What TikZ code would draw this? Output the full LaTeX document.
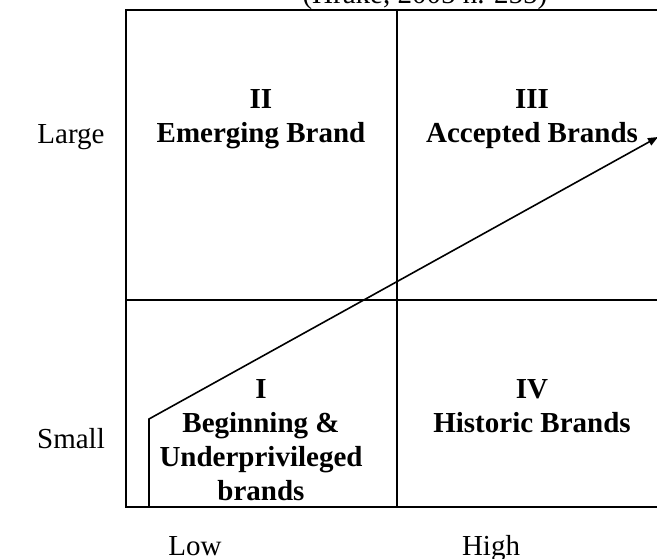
\documentclass[tikz,border=0pt]{standalone}
\usepackage{fontspec}
\setmainfont{Liberation Serif}
\usetikzlibrary{arrows.meta}
\begin{document}
\begin{tikzpicture}[x=1pt,y=-1pt,
  cell/.style={align=center,font=\bfseries\fontsize{29}{34}\selectfont,inner sep=0pt,anchor=north},
  side/.style={font=\fontsize{29}{34}\selectfont,inner sep=0pt,anchor=base}]
\useasboundingbox (0,0) rectangle (657,559);

         \coordinate (NW) at (126,10);
         \coordinate (SE) at (668,507);
         \coordinate (N)  at (397,10);
         \coordinate (S)  at (397,507);
         \coordinate (W)  at (126,300);
         \coordinate (E)  at (668,300);

         \draw [line width=2.2pt] (NW) rectangle (SE);
         \draw [line width=2.2pt] (N) -- (S);
         \draw [line width=2.2pt] (W) -- (E);

         \node [cell] (two)   at (261,89)  {II\\Emerging Brand};
         \node [cell] (three) at (532,89)  {III\\Accepted Brands};
         \node [cell] (one)   at (261,379) {I\\Beginning \&\\Underprivileged\\brands};
         \node [cell] (four)  at (532,379) {IV\\Historic Brands};

         \node [side] (large) at (71,144) {Large};
         \node [side] (small) at (71,448) {Small};
         \node [side] (low)   at (195,555) {Low};
         \node [side] (high)  at (491,555) {High};
         \node [side] (src)   at (425,4)   {(Hrake, 2005 h. 255)};

         \coordinate (start) at (149,507);
         \coordinate (kink)  at (149,419);
         \coordinate (tip)   at (658,137);
         \draw [line width=1.6pt,-{Triangle[length=10pt,width=8pt]}] (start) -- (kink) -- (tip);

\end{tikzpicture}
\end{document}
